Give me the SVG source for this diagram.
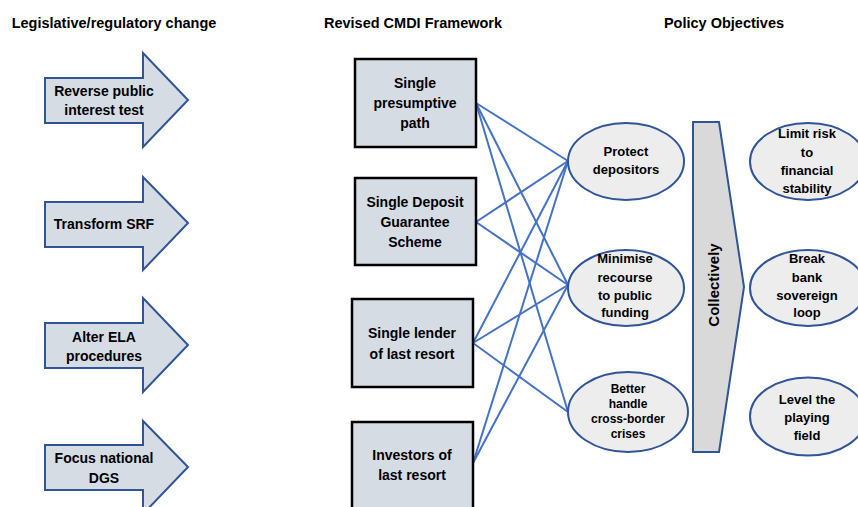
<svg xmlns="http://www.w3.org/2000/svg" width="858" height="507" viewBox="0 0 858 507">
<style>
text{font-family:"Liberation Sans",Arial,sans-serif;font-weight:bold;fill:#000;text-anchor:middle}
.title{font-size:14.5px}
.arr{fill:#d6dce4;stroke:#2f5597;stroke-width:2}
.box{fill:#d6dce4;stroke:#000;stroke-width:2.5}
.ell{fill:#ededed;stroke:#2f5597;stroke-width:2}
.t14{font-size:14px}
.t13{font-size:13px}
.t12{font-size:12px}
.con line{stroke:#4472c4;stroke-width:2}
</style>
<rect width="858" height="507" fill="#fff"/>
<text class="title" x="114" y="28">Legislative/regulatory change</text>
<text class="title" x="413" y="28">Revised CMDI Framework</text>
<text class="title" x="724" y="28">Policy Objectives</text>

<g id="connectors" class="con">
<line x1="476" y1="103" x2="568" y2="161"/>
<line x1="476" y1="103" x2="568" y2="285"/>
<line x1="476" y1="103" x2="568" y2="412"/>
<line x1="476" y1="222" x2="568" y2="161"/>
<line x1="476" y1="222" x2="568" y2="285"/>
<line x1="473" y1="343" x2="568" y2="161"/>
<line x1="473" y1="343" x2="568" y2="285"/>
<line x1="473" y1="343" x2="568" y2="412"/>
<line x1="473" y1="463" x2="568" y2="161"/>
<line x1="473" y1="463" x2="568" y2="285"/>
</g>

<g id="arrow1"><polygon class="arr" points="45,78 143,78 143,53 188,100 143,147 143,123 45,123"/>
<text class="t14" x="104" y="96">Reverse public</text><text class="t14" x="104" y="115">interest test</text></g>
<g id="arrow2"><polygon class="arr" points="45,202 143,202 143,177 188,223 143,270 143,247 45,247"/>
<text class="t14" x="104" y="229">Transform SRF</text></g>
<g id="arrow3"><polygon class="arr" points="45,323 143,323 143,298 188,345 143,392 143,368 45,368"/>
<text class="t14" x="104" y="342">Alter ELA</text><text class="t14" x="104" y="361">procedures</text></g>
<g id="arrow4"><polygon class="arr" points="45,445 143,445 143,421 188,467 143,514 143,490 45,490"/>
<text class="t14" x="104" y="463">Focus national</text><text class="t14" x="104" y="483">DGS</text></g>

<g id="box1"><rect class="box" x="355" y="59" width="121" height="88"/>
<text class="t14" x="415" y="88">Single</text><text class="t14" x="415" y="108">presumptive</text><text class="t14" x="415" y="128">path</text></g>
<g id="box2"><rect class="box" x="355" y="178" width="121" height="87"/>
<text class="t14" x="415" y="207">Single Deposit</text><text class="t14" x="415" y="227">Guarantee</text><text class="t14" x="415" y="247">Scheme</text></g>
<g id="box3"><rect class="box" x="352" y="299" width="121" height="88"/>
<text class="t14" x="412" y="338">Single lender</text><text class="t14" x="412" y="359">of last resort</text></g>
<g id="box4"><rect class="box" x="352" y="422" width="121" height="90"/>
<text class="t14" x="412" y="460">Investors of</text><text class="t14" x="412" y="480">last resort</text></g>

<g id="obj1"><ellipse class="ell" cx="626" cy="161.5" rx="58" ry="38.5"/>
<text class="t13" x="626" y="156">Protect</text><text class="t13" x="626" y="174">depositors</text></g>
<g id="obj2"><ellipse class="ell" cx="626" cy="288" rx="58" ry="38"/>
<text class="t13" x="625" y="263">Minimise</text><text class="t13" x="625" y="282">recourse</text><text class="t13" x="625" y="300">to public</text><text class="t13" x="625" y="317">funding</text></g>
<g id="obj3"><ellipse class="ell" cx="628" cy="412" rx="60" ry="40"/>
<text class="t12" x="628" y="393">Better</text><text class="t12" x="628" y="408">handle</text><text class="t12" x="628" y="423">cross-border</text><text class="t12" x="628" y="438">crises</text></g>

<g id="collectively"><polygon points="693,122 719,122 744,287 719,452 693,452" fill="#d9d9d9" stroke="#2f5597" stroke-width="2"/>
<text x="0" y="0" font-size="15" transform="translate(719,285) rotate(-90)">Collectively</text></g>

<g id="goal1"><ellipse class="ell" cx="808" cy="161.5" rx="58" ry="38.5"/>
<text class="t13" x="807" y="138">Limit risk</text><text class="t13" x="807" y="157">to</text><text class="t13" x="807" y="175">financial</text><text class="t13" x="807" y="193">stability</text></g>
<g id="goal2"><ellipse class="ell" cx="808" cy="288" rx="58" ry="38"/>
<text class="t13" x="807" y="263">Break</text><text class="t13" x="807" y="282">bank</text><text class="t13" x="807" y="300">sovereign</text><text class="t13" x="807" y="317">loop</text></g>
<g id="goal3"><ellipse class="ell" cx="808" cy="416.5" rx="58" ry="39"/>
<text class="t13" x="807" y="404">Level the</text><text class="t13" x="807" y="422">playing</text><text class="t13" x="807" y="440">field</text></g>
</svg>
